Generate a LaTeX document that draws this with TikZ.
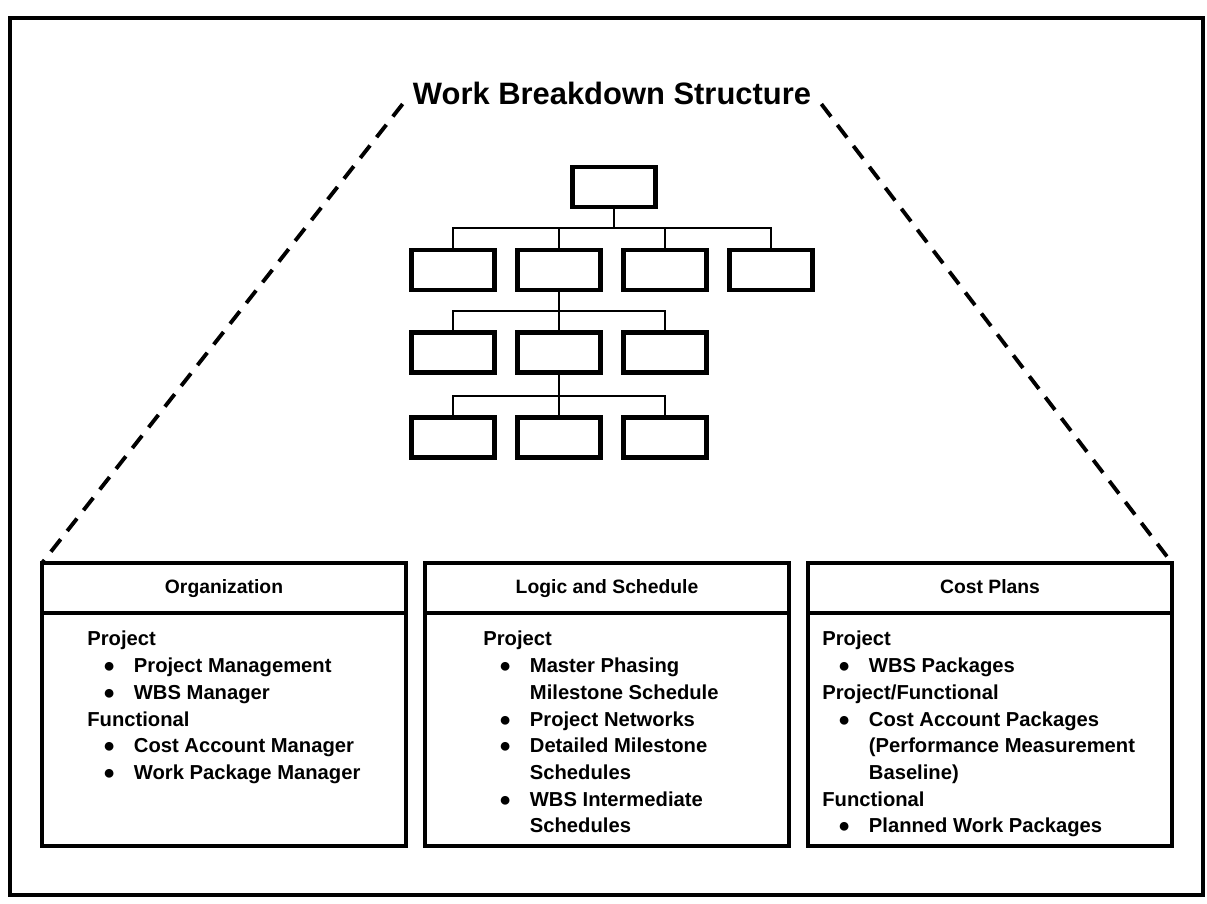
\documentclass[tikz,border=0pt]{standalone}
\usepackage{fontspec}
\setmainfont{Liberation Sans}
\usepackage{tikz}
\usetikzlibrary{positioning}
\tikzstyle{wbsbox} = [rectangle, draw = black, line width = 2.8pt, minimum width = 1.66cm, minimum height = 0.8cm]
\tikzstyle{panelhead} = [rectangle, draw = black, line width = 2.2pt, outer sep = 0pt, minimum width = 7.28cm, minimum height = 1cm, text height = 1.6ex, text depth = 0.5ex, font = \bfseries\fontsize{11}{13}\selectfont]
\tikzstyle{panelbody} = [rectangle, draw = black, line width = 2.2pt, outer sep = 0pt, minimum width = 7.28cm, minimum height = 4.66cm]
\tikzstyle{paneltext} = [inner sep = 0pt, align = left, font = \bfseries\fontsize{11.5}{15.2}\selectfont]
\tikzstyle{treeline} = [line width = 1.2pt]
\tikzstyle{fan} = [line width = 2.2pt, dash pattern = on 9pt off 6pt]
\newcommand{\wbsitem}[1]{\hspace*{9pt}\makebox[17.5pt][l]{●}#1}
\newcommand{\wbsmore}[1]{\hspace*{26.5pt}#1}

\begin{document}
\begin{tikzpicture}[x = 0.02cm, y = -0.02cm]
	\useasboundingbox (0,0) rectangle (1207,903);
	\draw [line width = 2.2pt] (10,18) rectangle (1203,895);

	\node (title)[inner sep = 0.2cm, font = \bfseries\fontsize{17.6}{20}\selectfont] at (612,93) {Work Breakdown Structure};

	\node (top)[wbsbox] at (614,187) {};
	\node (a1)[wbsbox] at (453,270) {};
	\node (a2)[wbsbox, right of = a1, xshift = 1.12cm] {};
	\node (a3)[wbsbox, right of = a2, xshift = 1.12cm] {};
	\node (a4)[wbsbox, right of = a3, xshift = 1.12cm] {};
	\node (b1)[wbsbox, below of = a1, yshift = -0.65cm] {};
	\node (b2)[wbsbox, right of = b1, xshift = 1.12cm] {};
	\node (b3)[wbsbox, right of = b2, xshift = 1.12cm] {};
	\node (c1)[wbsbox, below of = b1, yshift = -0.7cm] {};
	\node (c2)[wbsbox, right of = c1, xshift = 1.12cm] {};
	\node (c3)[wbsbox, right of = c2, xshift = 1.12cm] {};

	\coordinate (j1) at (614,228);
	\coordinate (j2) at (559,311);
	\coordinate (j3) at (559,396);

	\draw [treeline] (top) -- (j1);
	\draw [treeline] (a1) |- (j1) -| (a4);
	\draw [treeline] (a2) -- (a2 |- j1);
	\draw [treeline] (a3) -- (a3 |- j1);
	\draw [treeline] (a2) -- (b2);
	\draw [treeline] (b1) |- (j2) -| (b3);
	\draw [treeline] (b2) -- (c2);
	\draw [treeline] (c1) |- (j3) -| (c3);

	\node (orghead)[panelhead] at (224,588) {Organization};
	\node (orgbody)[panelbody, anchor = north] at (orghead.south) {};
	\node (loghead)[panelhead] at (607,588) {Logic and Schedule};
	\node (logbody)[panelbody, anchor = north] at (loghead.south) {};
	\node (costhead)[panelhead] at (990,588) {Cost Plans};
	\node (costbody)[panelbody, anchor = north] at (costhead.south) {};

	\node (orgtext)[paneltext, below right = 0.36cm and 0.9cm of orgbody.north west] {Project\\
		\wbsitem{Project Management}\\
		\wbsitem{WBS Manager}\\
		Functional\\
		\wbsitem{Cost Account Manager}\\
		\wbsitem{Work Package Manager}};
	\node (logtext)[paneltext, below right = 0.36cm and 1.16cm of logbody.north west] {Project\\
		\wbsitem{Master Phasing}\\
		\wbsmore{Milestone Schedule}\\
		\wbsitem{Project Networks}\\
		\wbsitem{Detailed Milestone}\\
		\wbsmore{Schedules}\\
		\wbsitem{WBS Intermediate}\\
		\wbsmore{Schedules}};
	\node (costtext)[paneltext, below right = 0.36cm and 0.28cm of costbody.north west] {Project\\
		\wbsitem{WBS Packages}\\
		Project/Functional\\
		\wbsitem{Cost Account Packages}\\
		\wbsmore{(Performance Measurement}\\
		\wbsmore{Baseline)}\\
		Functional\\
		\wbsitem{Planned Work Packages}};

	\draw [fan] (title.base west) -- (orghead.north west);
	\draw [fan] (title.base east) -- (costhead.north east);
\end{tikzpicture}
\end{document}
